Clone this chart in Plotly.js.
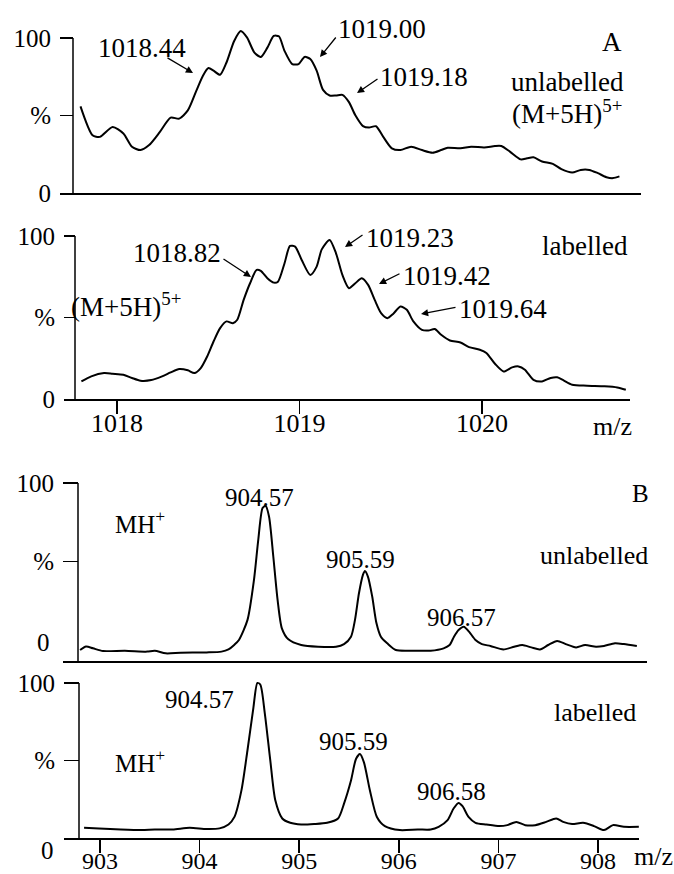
<!DOCTYPE html>
<html><head><meta charset="utf-8">
<script src="https://cdn.plot.ly/plotly-3.0.1.min.js"></script>
<style>html,body{margin:0;padding:0;background:#fff}</style>
</head><body><div id="chart" style="width:674px;height:874px"></div>
<script>
// ---------------- DATA ----------------
// Panel A, unlabelled (M+5H)5+
const mzAU = [1017.80,1017.866,1017.906,1017.976,1018.035,1018.082,1018.129,1018.176,1018.235,1018.294,1018.341,1018.388,1018.435,1018.471,1018.501,1018.529,1018.565,1018.60,1018.642,1018.678,1018.713,1018.753,1018.788,1018.824,1018.859,1018.887,1018.918,1018.96,1018.995,1019.028,1019.059,1019.094,1019.129,1019.165,1019.20,1019.235,1019.271,1019.306,1019.348,1019.381,1019.419,1019.459,1019.506,1019.553,1019.612,1019.671,1019.729,1019.776,1019.812,1019.882,1019.941,1020.012,1020.071,1020.106,1020.153,1020.212,1020.247,1020.282,1020.329,1020.388,1020.435,1020.494,1020.541,1020.588,1020.635,1020.682,1020.718,1020.753];
const intAU = [55.9,37.3,36.2,42.6,38.4,29.9,27.7,30.9,39.4,48.6,48.0,53.3,66.1,75.7,80.6,78.9,76.3,84.2,98.1,104.5,100.2,90.6,87.8,93.8,101.3,101.1,91.7,83.2,83.2,87.8,86.4,78.9,66.5,62.9,62.9,63.3,58.6,50.1,43.1,42.2,43.1,36.2,28.8,27.7,29.9,27.7,26.0,27.7,29.2,28.8,29.9,29.4,30.3,30.3,26.7,21.7,22.4,23.0,20.3,18.8,15.4,13.2,14.9,14.9,12.8,10.2,9.6,10.7];
// Panel A, labelled
const mzAL = [1017.805,1017.859,1017.929,1017.976,1018.035,1018.082,1018.129,1018.188,1018.247,1018.294,1018.341,1018.388,1018.424,1018.459,1018.494,1018.529,1018.565,1018.60,1018.635,1018.659,1018.694,1018.729,1018.765,1018.788,1018.824,1018.859,1018.882,1018.918,1018.948,1018.976,1019.012,1019.059,1019.094,1019.122,1019.165,1019.20,1019.235,1019.271,1019.306,1019.341,1019.376,1019.412,1019.447,1019.482,1019.513,1019.553,1019.588,1019.624,1019.671,1019.706,1019.741,1019.776,1019.824,1019.882,1019.929,1019.988,1020.024,1020.071,1020.118,1020.165,1020.20,1020.235,1020.282,1020.329,1020.376,1020.412,1020.447,1020.494,1020.576,1020.671,1020.741,1020.788];
const intAL = [10.8,13.9,15.9,15.5,14.9,12.9,11.2,11.6,13.9,16.3,18.4,17.6,15.9,19.0,26.1,35.3,43.5,47.6,46.5,48.6,60.8,71.0,79.2,78.6,74.1,71.4,72.0,83.3,93.9,93.5,85.3,76.1,81.2,91.8,97.6,89.4,76.1,68.0,71.0,74.1,70.0,60.8,52.7,49.6,52.2,56.7,54.7,47.6,42.4,42.0,42.9,39.4,35.9,34.7,31.8,30.2,28.2,21.6,16.9,19.4,20.0,18.0,11.8,10.8,12.9,13.3,11.4,8.8,8.2,7.8,7.1,5.7];
// Panel B, unlabelled MH+
const mzBU = [902.80,902.86,902.93,903.03,903.25,903.47,903.55,903.66,903.81,904.07,904.22,904.29,904.35,904.395,904.481,904.546,904.589,904.632,904.662,904.697,904.74,904.783,904.826,904.891,905.02,905.19,905.37,905.45,905.52,905.56,905.60,905.64,905.66,905.69,905.733,905.776,905.82,905.884,905.97,906.14,906.32,906.45,906.51,906.554,906.60,906.653,906.705,906.77,906.834,906.92,907.05,907.158,907.24,907.33,907.417,907.50,907.59,907.676,907.78,907.87,907.98,908.06,908.17,908.26,908.39];
const intBU = [-6.4,-4.2,-5.3,-7.0,-6.8,-7.4,-6.8,-8.5,-8.1,-7.9,-7.4,-6.0,-3.0,0,12.8,38.3,63.8,84.0,85.5,78.7,53.2,25.5,7.4,0.4,-3.2,-4.3,-4.3,-2.6,2.1,12.8,29.8,41.5,44.0,40.4,27.7,10.6,2.1,-2.1,-6.4,-6.8,-6.8,-5.3,-3.2,2.1,6.4,8.5,5.3,0,-2.6,-3.8,-6.0,-4.3,-3.2,-4.7,-6.0,-3.2,-0.6,-2.6,-4.7,-3.2,-4.3,-3.8,-2.1,-2.6,-3.8];
// Panel B, labelled MH+
const mzBL = [902.84,902.99,903.21,903.42,903.55,903.73,903.90,904.07,904.20,904.29,904.35,904.42,904.48,904.54,904.58,904.61,904.654,904.71,904.76,904.83,904.91,905.02,905.15,905.28,905.39,905.45,905.52,905.57,905.61,905.65,905.71,905.78,905.86,906.01,906.19,906.32,906.40,906.49,906.55,906.60,906.64,906.70,906.77,906.88,907.01,907.09,907.18,907.27,907.37,907.48,907.58,907.65,907.74,907.85,907.96,908.06,908.15,908.26,908.41];
const intBL = [6.6,6.2,5.5,5.1,5.5,5.5,6.6,5.8,6.2,8.7,13.6,30.7,56.3,84.0,100.0,98.9,80.8,49.9,24.3,12.6,9.8,8.7,9.0,9.8,12.6,22.2,37.1,51.0,54.2,48.8,30.7,13.6,7.7,5.1,5.5,5.5,7.2,11.5,19.0,22.6,20.5,13.6,9.8,8.7,7.7,8.3,10.4,8.3,8.3,10.4,12.6,10.4,9.0,9.8,7.7,5.1,8.3,7.2,7.2];

// Tick labels
const yTickValsA = [0, 50, 100];
const yTickTextA = ['0', '%', '100'];
const yTickValsB = [50, 100];
const yTickTextB = ['%', '100'];
const xTickValsA = [1018, 1019, 1020];
const xTickTextA = ['1018', '1019', '1020'];
const xTickValsB = [903, 904, 905, 906, 907, 908];
const xTickTextB = ['903', '904', '905', '906', '907', '908'];

// Text labels
const peakLabelsAU = ['1018.44', '1019.00', '1019.18'];
const peakLabelsAL = ['1018.82', '1019.23', '1019.42', '1019.64'];
const peakLabelsBU = ['904.57', '905.59', '906.57'];
const peakLabelsBL = ['904.57', '905.59', '906.58'];
const ionA = '(M+5H)<sup>5+</sup>';
const ionB = 'MH<sup>+</sup>';
const stateLabels = ['unlabelled', 'labelled'];
const panelLetters = ['A', 'B'];
const xTitle = 'm/z';

// ---------------- LAYOUT ----------------
const W = 674, H = 874;
const FONT = '"Liberation Serif"';
const BLACK = '#000';

const panels = [
  {xCal:[117,1018,482,1020], y0px:193, y100px:38, left:60, right:641, top:22, bottom:193, yAxisPx:73,
   xs:mzAU, ys:intAU, ytv:yTickValsA, ytt:yTickTextA, xtv:null, xtt:null, xfs:26, xso:-13},
  {xCal:[117,1018,482,1020], y0px:399, y100px:236, left:64, right:630, top:226, bottom:399, yAxisPx:75,
   xs:mzAL, ys:intAL, ytv:yTickValsA, ytt:yTickTextA, xtv:xTickValsA, xtt:xTickTextA, xfs:26, xso:-13},
  {xCal:[100,903,598,908], y0px:640, y100px:483, left:63, right:647, top:474, bottom:661, yAxisPx:78,
   xs:mzBU, ys:intBU, ytv:yTickValsB, ytt:yTickTextB, xtv:null, xtt:null, xfs:25, xso:-12},
  {xCal:[100,903,598,908], y0px:838, y100px:683, left:64, right:639, top:672, bottom:838, yAxisPx:79,
   xs:mzBL, ys:intBL, ytv:yTickValsB, ytt:yTickTextB, xtv:xTickValsB, xtt:xTickTextB, xfs:24, xso:-12}
];

function pxToX(p, P){ const c = P.xCal; return c[1] + (p - c[0]) * (c[3] - c[1]) / (c[2] - c[0]); }
function pyToY(p, P){ return (P.y0px - p) / (P.y0px - P.y100px) * 100; }

const traces = [];
const layout = {
  width: W, height: H,
  margin: {l:0, r:0, t:0, b:0},
  paper_bgcolor: '#fff', plot_bgcolor: 'rgba(0,0,0,0)',
  showlegend: false,
  font: {family: FONT, color: BLACK, size: 24},
  shapes: [], annotations: []
};

panels.forEach((P, i) => {
  const n = i === 0 ? '' : String(i + 1);
  const xa = 'x' + n, ya = 'y' + n;
  P.xa = xa; P.ya = ya;
  traces.push({
    type: 'scatter', mode: 'lines', x: P.xs, y: P.ys, xaxis: xa, yaxis: ya,
    line: {color: BLACK, width: 2, shape: 'spline', smoothing: 0.7},
    hoverinfo: 'skip'
  });
  layout['xaxis' + n] = {
    domain: [P.left / W, P.right / W],
    range: [pxToX(P.left, P), pxToX(P.right, P)],
    anchor: ya, showline: true, linecolor: BLACK, linewidth: 1.5,
    showgrid: false, zeroline: false, fixedrange: true,
    ticks: P.xtv ? 'outside' : '', ticklen: 13, tickwidth: 1.5, tickcolor: BLACK,
    tickvals: P.xtv || [], ticktext: P.xtt || [], showticklabels: !!P.xtv,
    ticklabelstandoff: P.xso,
    tickfont: {family: FONT, size: P.xfs, color: BLACK}
  };
  layout['yaxis' + n] = {
    domain: [1 - P.bottom / H, 1 - P.top / H],
    range: [pyToY(P.bottom, P), pyToY(P.top, P)],
    anchor: xa, showline: false, showgrid: false, zeroline: false, fixedrange: true,
    ticks: 'inside', ticklen: P.yAxisPx - P.left, tickwidth: 1.5, tickcolor: BLACK,
    tickvals: P.ytv, ticktext: P.ytt, ticklabelstandoff: 8,
    tickfont: {family: FONT, size: 25, color: BLACK}
  };
  // vertical y-axis line from the x-axis line up to 100 %
  const vAx = pxToX(P.yAxisPx, P);
  layout.shapes.push({type:'line', xref: xa, yref: ya, x0: vAx, x1: vAx,
    y0: pyToY(P.bottom, P), y1: 100, line: {color: BLACK, width: 1.5}});
});

// text labels (pixel positions -> paper)
function txt(text, px, py, anchor, size){
  layout.annotations.push({xref:'paper', yref:'paper', x: px / W, y: 1 - py / H,
    xanchor: anchor || 'center', yanchor: 'middle', text: text, showarrow: false,
    borderpad: 0, font: {family: FONT, size: size || 27, color: BLACK}});
}
// arrows: head in data coords, tail offset in px
function arrow(P, hx, hy, ax, ay){
  layout.annotations.push({xref: P.xa, yref: P.ya,
    x: pxToX(hx, P), y: pyToY(hy, P), ax: ax, ay: ay, text: '',
    showarrow: true, arrowhead: 2, arrowsize: 1.1, arrowwidth: 1.3, arrowcolor: BLACK, standoff: 0});
}

const [PA1, PA2, PB1, PB2] = panels;
// Panel A top
txt(peakLabelsAU[0], 142, 48); arrow(PA1, 193, 73, -27, -16);
txt(peakLabelsAU[1], 382, 29); arrow(PA1, 320, 57, 17, -21);
txt(peakLabelsAU[2], 424, 77); arrow(PA1, 357, 93, 22, -15);
txt(panelLetters[0], 612, 42);
txt(stateLabels[0], 625, 82, 'right');
txt(ionA, 623, 112, 'right');
// Panel A bottom
txt(peakLabelsAL[0], 177, 253); arrow(PA2, 251, 277, -29, -19);
txt(peakLabelsAL[1], 410, 238); arrow(PA2, 345, 247, 19, -13);
txt(peakLabelsAL[2], 447, 276); arrow(PA2, 379, 284, 22, -11);
txt(peakLabelsAL[3], 503, 309); arrow(PA2, 421, 314, 36, -7);
txt(stateLabels[1], 629, 246, 'right');
txt(ionA, 126, 305);
txt(xTitle, 612, 426, 'center', 26);
// Panel B top
txt(peakLabelsBU[0], 259, 497, 'center', 25);
txt(peakLabelsBU[1], 360, 559, 'center', 25);
txt(peakLabelsBU[2], 461, 617, 'center', 25);
txt(ionB, 140, 522, 'center', 25);
txt(stateLabels[0], 649, 555, 'right', 26);
txt(panelLetters[1], 640, 494, 'center', 25);
txt('0', 51, 642, 'right', 25);
// Panel B bottom
txt(peakLabelsBL[0], 199, 699, 'center', 25);
txt(peakLabelsBL[1], 353, 741, 'center', 25);
txt(peakLabelsBL[2], 452, 791, 'center', 25);
txt(ionB, 140, 761, 'center', 25);
txt(stateLabels[1], 637, 712, 'right', 26);
txt('0', 55, 850, 'right', 25);
txt(xTitle, 653, 856, 'center', 26);

Plotly.newPlot('chart', traces, layout, {staticPlot: true, displayModeBar: false});
</script>
</body></html>
